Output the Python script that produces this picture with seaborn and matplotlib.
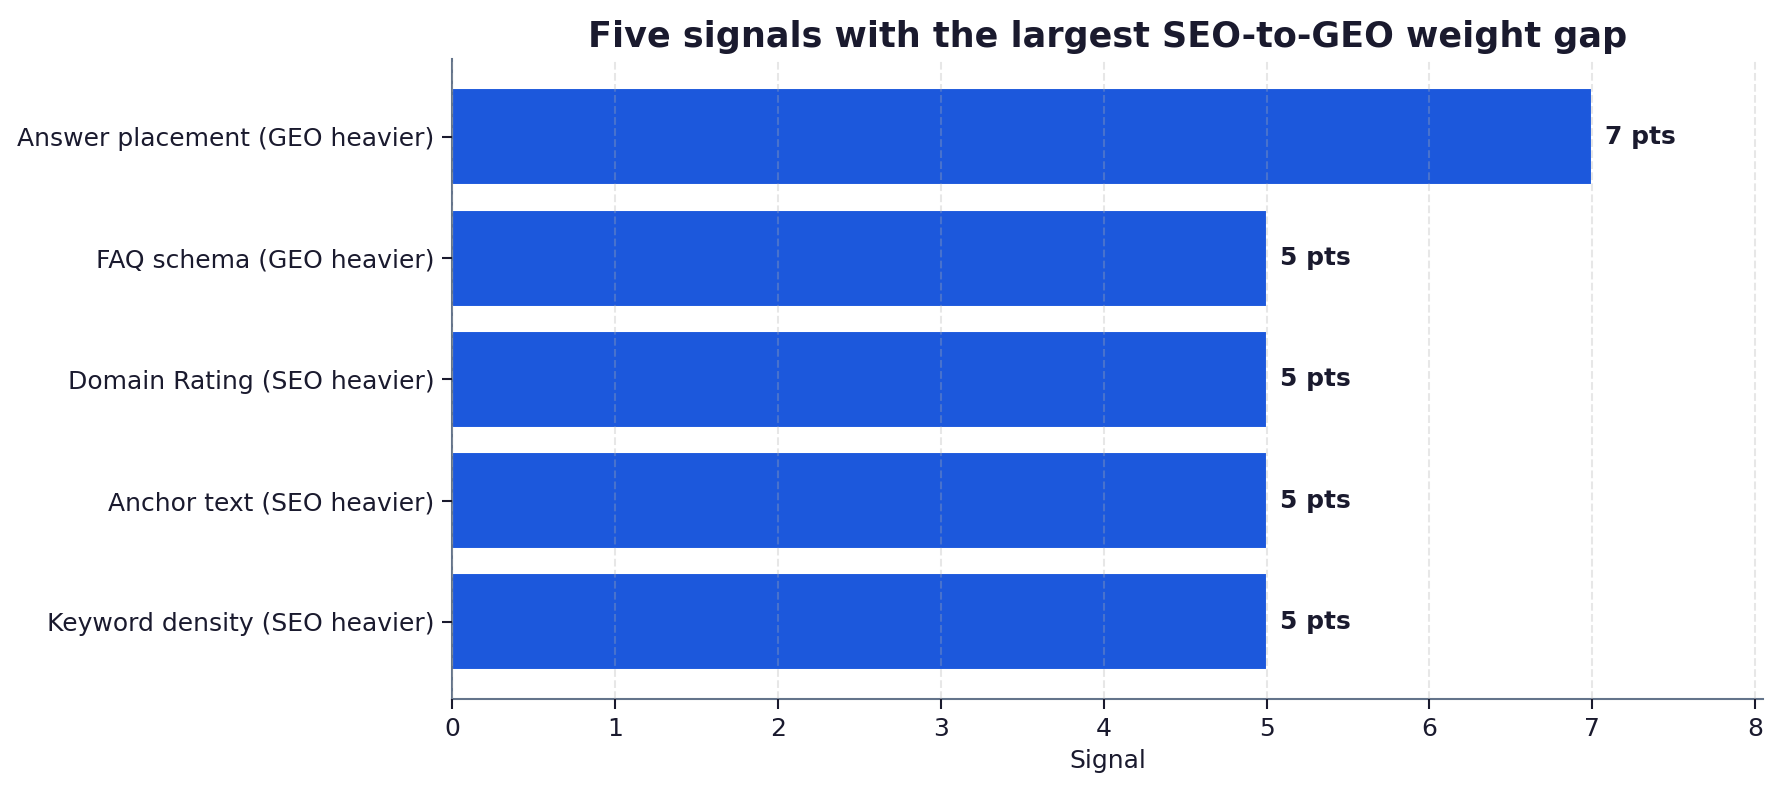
import matplotlib
matplotlib.use("Agg")
import matplotlib.pyplot as plt
import pandas as pd
import seaborn as sns

# %% data
signals = [
    "Answer placement (GEO heavier)",
    "FAQ schema (GEO heavier)",
    "Domain Rating (SEO heavier)",
    "Anchor text (SEO heavier)",
    "Keyword density (SEO heavier)",
]
gap_pts = [7, 5, 5, 5, 5]

df = pd.DataFrame({"Signal": signals, "Gap": gap_pts})

# %% style
sns.set_theme(style="white")
plt.rcParams["font.family"] = ["DejaVu Sans"]
text_color = "#1a1a2e"
spine_color = "#64748b"
bar_color = "#1c58dc"

fig, ax = plt.subplots(figsize=(11.873, 5.28), dpi=150)
sns.barplot(data=df, x="Gap", y="Signal", color=bar_color, saturation=1, ax=ax)

ax.set_xlim(0, max(gap_pts) * 1.15)
ax.set_ylim(len(signals) - 0.36, -0.64)
ax.grid(axis="x", linestyle="--", color="#b0b0b0", alpha=0.3, linewidth=1)
ax.set_axisbelow(False)

for i, v in enumerate(gap_pts):
    ax.text(v + 0.08, i, f"{v} pts", va="center", ha="left",
            fontsize=12, fontweight="bold", color=text_color)

sns.despine(ax=ax)
for side in ["left", "bottom"]:
    ax.spines[side].set_color(spine_color)
    ax.spines[side].set_linewidth(1)

ax.tick_params(axis="both", labelsize=12, colors=text_color, length=5, width=1,
               left=True, bottom=True)
ax.set_xlabel("Signal", fontsize=12, color=text_color)
ax.set_ylabel("")
ax.set_title("Five signals with the largest SEO-to-GEO weight gap",
             fontsize=16.8, fontweight="bold", color=text_color, pad=6)

fig.subplots_adjust(left=0.254, right=0.990, top=0.925, bottom=0.117)
fig.savefig("out.png", dpi=150, facecolor="white")
